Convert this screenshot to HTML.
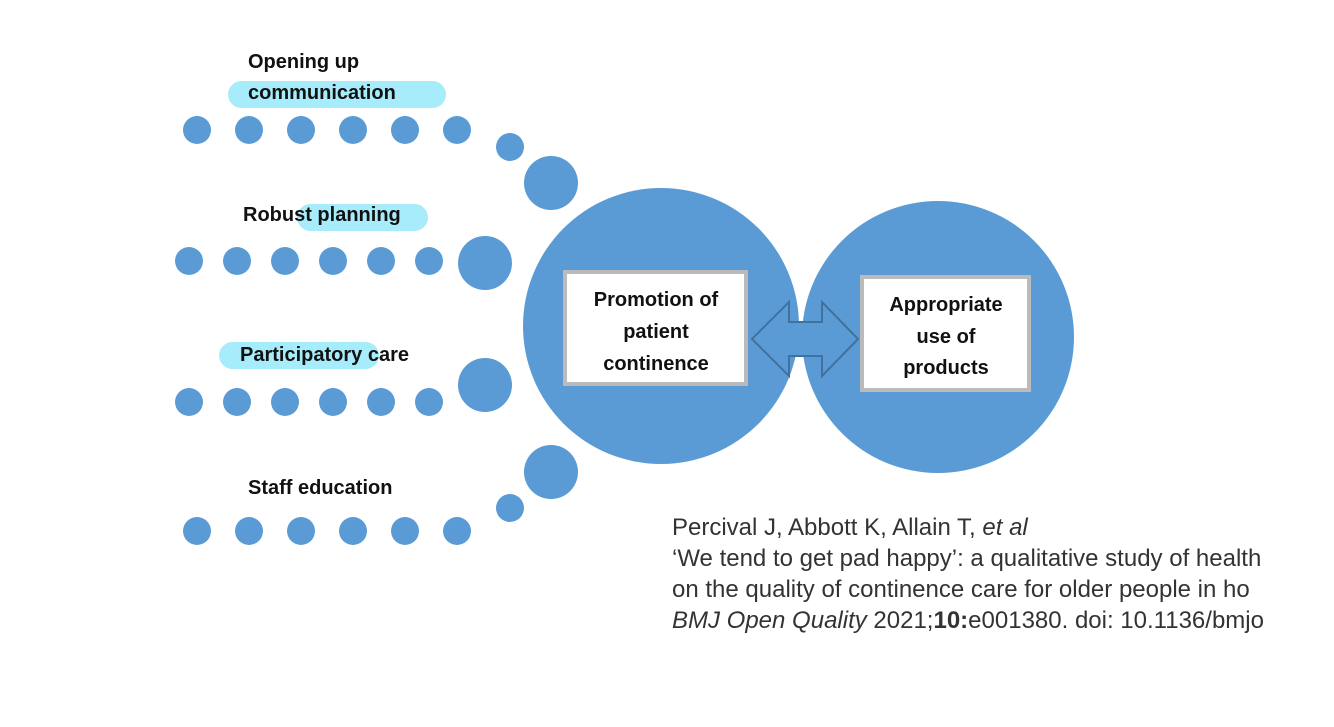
<!DOCTYPE html>
<html><head><style>
body{margin:0;width:1334px;height:727px;background:#fff;position:relative;overflow:hidden;font-family:"Liberation Sans",sans-serif}
.l{position:absolute;font-weight:bold;font-size:20px;color:#111;white-space:nowrap}
.p{position:absolute;background:#a6ecfa;border-radius:14px}
.cit{position:absolute;left:672px;top:512px;font-size:24px;line-height:31px;color:#333;white-space:nowrap}
</style></head><body>
<svg width="1334" height="727" style="position:absolute;left:0;top:0">
<g fill="#5b9bd5">
<circle cx="197" cy="130" r="14"/><circle cx="249" cy="130" r="14"/><circle cx="301" cy="130" r="14"/><circle cx="353" cy="130" r="14"/><circle cx="405" cy="130" r="14"/><circle cx="457" cy="130" r="14"/><circle cx="510" cy="147" r="14"/><circle cx="551" cy="183" r="27"/>
<circle cx="189" cy="261" r="14"/><circle cx="237" cy="261" r="14"/><circle cx="285" cy="261" r="14"/><circle cx="333" cy="261" r="14"/><circle cx="381" cy="261" r="14"/><circle cx="429" cy="261" r="14"/><circle cx="485" cy="263" r="27"/>
<circle cx="189" cy="402" r="14"/><circle cx="237" cy="402" r="14"/><circle cx="285" cy="402" r="14"/><circle cx="333" cy="402" r="14"/><circle cx="381" cy="402" r="14"/><circle cx="429" cy="402" r="14"/><circle cx="485" cy="385" r="27"/>
<circle cx="197" cy="531" r="14"/><circle cx="249" cy="531" r="14"/><circle cx="301" cy="531" r="14"/><circle cx="353" cy="531" r="14"/><circle cx="405" cy="531" r="14"/><circle cx="457" cy="531" r="14"/><circle cx="510" cy="508" r="14"/><circle cx="551" cy="472" r="27"/>
<circle cx="661" cy="326" r="138"/><circle cx="938" cy="337" r="136"/>
</g>
<polygon points="752,339 789,302 789,322 822,322 822,302 858,339 822,376 822,356 789,356 789,376" fill="#5b9bd5" stroke="#41719c" stroke-width="2"/>
<rect x="565" y="272" width="181" height="112" fill="#fff" stroke="#bbb" stroke-width="4"/>
<rect x="862" y="277" width="167" height="113" fill="#fff" stroke="#bbb" stroke-width="4"/>
<g font-family="Liberation Sans,sans-serif" font-weight="bold" font-size="20" fill="#111" text-anchor="middle">
<text x="656" y="306">Promotion of</text><text x="656" y="338">patient</text><text x="656" y="370">continence</text>
<text x="946" y="311">Appropriate</text><text x="946" y="343">use of</text><text x="946" y="374">products</text>
</g>
</svg>
<div class="p" style="left:228px;top:81px;width:218px;height:27px"></div>
<div class="p" style="left:297px;top:204px;width:131px;height:27px"></div>
<div class="p" style="left:219px;top:342px;width:160px;height:27px"></div>
<div class="l" style="left:248px;top:51px">Opening up</div>
<div class="l" style="left:248px;top:82px">communication</div>
<div class="l" style="left:243px;top:204px">Robust planning</div>
<div class="l" style="left:240px;top:344px">Participatory care</div>
<div class="l" style="left:248px;top:477px">Staff education</div>
<div class="cit">Percival J, Abbott K, Allain T, <i>et al</i><br>‘We tend to get pad happy’: a qualitative study of health<br>on the quality of continence care for older people in ho<br><i>BMJ Open Quality</i> 2021;<b>10:</b>e001380. doi: 10.1136/bmjo</div>
</body></html>
